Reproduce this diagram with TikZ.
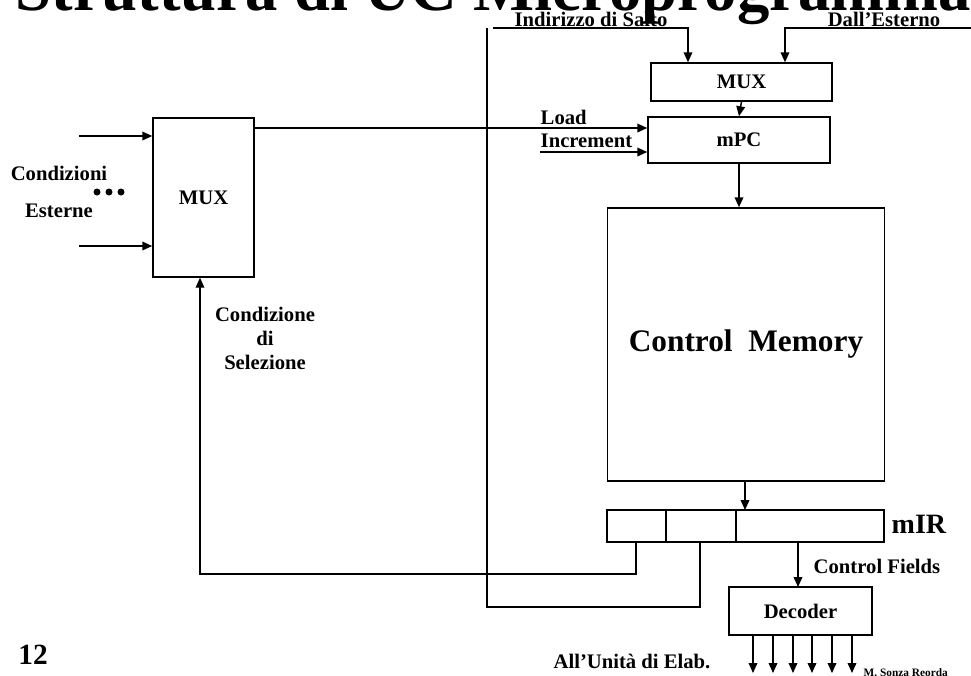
\documentclass[tikz,border=0pt]{standalone}
\usepackage{fontspec}
\setmainfont{Liberation Serif}
\usetikzlibrary{arrows.meta}
\newcommand\mylbl{\bfseries\fontsize{15.5}{18}\selectfont}
\begin{document}
\begin{tikzpicture}[x=0.75pt,y=-0.75pt,
  line width=1.1pt,
  arr/.style={-{Triangle[length=7.5pt,width=6.5pt]}},
  box/.style={draw, line width=1.1pt, inner sep=0pt, font=\mylbl},
  lbl/.style={font=\mylbl, inner sep=0pt},
  dotmark/.style={fill=black, draw=none, circle, inner sep=0pt, minimum size=7*0.75pt}]
\useasboundingbox (0,0) rectangle (971,675);
\clip (0,0) rectangle (971,675);

% title (cut at top)
\node[anchor=base west, inner sep=0pt, font=\bfseries\fontsize{48.5}{50}\selectfont] (title) at (15,10) {Struttura di UC Microprogrammata};

% boxes
\node[box, minimum width=101*0.75pt, minimum height=159*0.75pt] (mux1) at (203.5,197.5) {MUX};
\node[box, minimum width=181*0.75pt, minimum height=38*0.75pt] (mux2) at (741.5,82) {MUX};
\node[box, minimum width=182*0.75pt, minimum height=46*0.75pt] (mpc) at (739,140) {mPC};
\node[box, minimum width=277*0.75pt, minimum height=273*0.75pt, font=\bfseries\fontsize{23.5}{26}\selectfont] (cm) at (746,344.5) {Control\enspace Memory};
\node[box, minimum width=277*0.75pt, minimum height=32*0.75pt] (mir) at (745.5,526) {};
\node[box, minimum width=143*0.75pt, minimum height=48*0.75pt] (dec) at (800.5,611) {Decoder};

% mIR fields
\draw (666,510) -- (666,542);
\draw (736,510) -- (736,542);

% labels
\node[lbl] (cond) at (59,173) {Condizioni};
\node[lbl] (est) at (59,211) {Esterne};
\node[dotmark] (d1) at (97,192) {};
\node[dotmark] (d2) at (109,192) {};
\node[dotmark] (d3) at (121,192) {};
\node[lbl, align=center] (sel) at (265,338) {Condizione\\di\\Selezione};
\node[lbl, anchor=base west] (load) at (540,124) {Load};
\node[lbl, anchor=base west] (incr) at (540,147) {Increment};
\node[lbl] (ind) at (591,19) {Indirizzo di Salto};
\node[lbl] (dall) at (884,19) {Dall'Esterno};
\node[lbl, font=\bfseries\fontsize{21}{24}\selectfont, anchor=west] (mirl) at (891,524) {mIR};
\node[lbl, anchor=west] (cf) at (813,566) {Control Fields};
\node[lbl] (unit) at (632,661) {All'Unità di Elab.};
\node[lbl, font=\bfseries\fontsize{22}{24}\selectfont] (num) at (33,655) {12};
\node[inner sep=0pt, anchor=base west, font=\bfseries\fontsize{8.5}{10}\selectfont] (auth) at (863,676) {M. Sonza Reorda};

% coordinates
\coordinate (inA) at (79,136);
\coordinate (inB) at (79,246);
\coordinate (incS) at (540,152);
\coordinate (indS) at (493,28);
\coordinate (indC) at (688,28);
\coordinate (dalS) at (971,28);
\coordinate (dalC) at (785,28);
\coordinate (fb1) at (636,574);
\coordinate (fb2) at (200,574);
\coordinate (jb1) at (700,607);
\coordinate (jb2) at (487,607);
\coordinate (jbT) at (487,28);

% connectors
\draw[arr] (inA) -- (inA -| mux1.west);
\draw[arr] (inB) -- (inB -| mux1.west);
\draw[arr] (mux1.east |- 0,128) -- (mpc.west |- 0,128);
\draw[arr] (incS) -- (incS -| mpc.west);
\draw[arr] (indS) -- (indC) -- (indC |- mux2.north);
\draw[arr] (dalS) -- (dalC) -- (dalC |- mux2.north);
\draw[arr] (mux2.south) -- (mpc.north);
\draw[arr] (mpc.south) -- (mpc.south |- cm.north);
\draw[arr] (745,481) -- (745,510);
\draw[arr] (798,542) -- (798,587);
\draw[arr] (fb1 |- mir.south) -- (fb1) -- (fb2) -- (fb2 |- mux1.south);
\draw (jb1 |- mir.south) -- (jb1) -- (jb2) -- (jbT);
\foreach \x in {753,773,793,812,832,852}
  \draw[arr] (\x,635) -- (\x,673);
\end{tikzpicture}
\end{document}
